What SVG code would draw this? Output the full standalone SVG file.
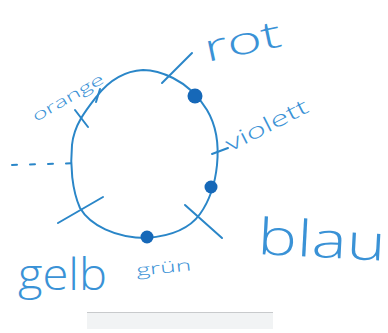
<svg xmlns="http://www.w3.org/2000/svg" width="388" height="333" viewBox="0 0 388 333">
<style>
.ln{fill:none;stroke:#2a86c8;stroke-width:2;stroke-linecap:round;stroke-linejoin:round}
.dot{fill:#1668b8}
.hw{fill:#3a92d6;font-family:"Open Sans","Liberation Sans",Arial,sans-serif;font-weight:300}
</style>
<rect width="388" height="333" fill="#ffffff"/>
<rect x="87" y="312" width="186" height="17" fill="#f1f3f4"/>
<line x1="87" y1="312.5" x2="273" y2="312.5" stroke="#c8cacc" stroke-width="1"/>
<g id="circle">
<path class="ln" d="M143,70 C124,71 108,82 97,96 C86,110 74,125 72,145 C70,165 72,190 80,208 C90,225 115,238 147,238 C172,236 190,228 200,214 C210,200 215,185 217,165 C219,145 216,125 207,110 C198,95 187,85 173,78 C163,73 153,70 143,70 Z"/>
</g>
<g id="connectors">
<line class="ln" x1="162" y1="83" x2="192" y2="53"/>
<line class="ln" x1="75" y1="110" x2="88" y2="127"/>
<line class="ln" x1="100" y1="89" x2="96" y2="102"/>
<line class="ln" x1="12" y1="165" x2="83" y2="163" stroke-dasharray="5,13" stroke-width="1.6"/>
<line class="ln" x1="58" y1="223" x2="103" y2="197" stroke-width="1.6"/>
<line class="ln" x1="212" y1="154" x2="228" y2="148"/>
<line class="ln" x1="185" y1="205" x2="222" y2="238"/>
</g>
<g id="dots">
<circle class="dot" cx="195" cy="96" r="7.5"/>
<circle class="dot" cx="211" cy="187" r="6.5"/>
<circle class="dot" cx="147" cy="237" r="6.5"/>
</g>
<g id="labels">
<text class="hw" x="207" y="62" font-size="38" textLength="78" lengthAdjust="spacingAndGlyphs" transform="rotate(-12 207 62)">rot</text>
<text class="hw" x="36" y="122" font-size="15" textLength="80" lengthAdjust="spacingAndGlyphs" transform="rotate(-30 36 122)">orange</text>
<text class="hw" x="230" y="152" font-size="21" textLength="90" lengthAdjust="spacingAndGlyphs" transform="rotate(-27 230 152)">violett</text>
<text class="hw" x="257" y="254" font-size="50" textLength="128" lengthAdjust="spacingAndGlyphs" transform="rotate(3 257 254)">blau</text>
<text class="hw" x="18" y="290" font-size="44" textLength="89" lengthAdjust="spacingAndGlyphs">gelb</text>
<text class="hw" x="137" y="276" font-size="16" textLength="55" lengthAdjust="spacingAndGlyphs" transform="rotate(-6 137 276)">grün</text>
</g>
</svg>
